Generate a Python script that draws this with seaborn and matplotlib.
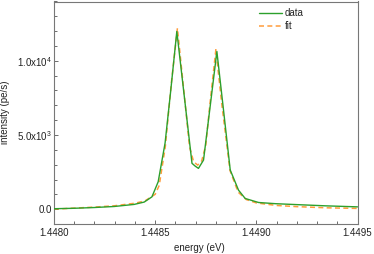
import matplotlib
matplotlib.use("Agg")
import matplotlib.pyplot as plt
import seaborn as sns
import pandas as pd
from matplotlib.ticker import MultipleLocator, FixedLocator

# ---- data ----
data_energy = [1.448000, 1.448099, 1.448198, 1.448297, 1.448396, 1.448446, 1.448484,
               1.448515, 1.448549, 1.448577, 1.448607, 1.448644, 1.448682, 1.448698,
               1.448714, 1.448739, 1.448772, 1.448805, 1.448838, 1.448871, 1.448912,
               1.448945, 1.449011, 1.449094, 1.449177, 1.449342, 1.449500]
data_intensity = [30, 60, 110, 180, 320, 480, 830,
                  1850, 4460, 8000, 11980, 7600, 3090, 2900,
                  2750, 3310, 6950, 10630, 6650, 2640, 1280,
                  720, 450, 370, 320, 225, 155]

fit_energy = [1.44800, 1.44810, 1.44820, 1.44830, 1.44840, 1.44845, 1.44850, 1.44852,
              1.44855, 1.44858, 1.44861, 1.44864, 1.44867, 1.44869, 1.44871, 1.44873,
              1.44875, 1.44877, 1.44880, 1.44883, 1.44887, 1.44891, 1.44895, 1.44900,
              1.44910, 1.44920, 1.44935, 1.44950]
fit_intensity = [0, 70, 140, 230, 400, 560, 1000, 1600,
                 4200, 8500, 12200, 8200, 4200, 3200, 2970, 3250,
                 4300, 7000, 10750, 7000, 2600, 1150, 650, 420,
                 250, 170, 90, 50]

x_ticks = [1.4480, 1.4485, 1.4490, 1.4495]
x_ticklabels = ["1.4480", "1.4485", "1.4490", "1.4495"]
y_ticks = [0, 5000, 10000]
y_ticklabels = ["0.0", r"5.0x10$^{3}$", r"1.0x10$^{4}$"]

sns.set_style("ticks")
plt.rcParams["font.family"] = ["Liberation Sans", "DejaVu Sans"]
plt.rcParams["mathtext.fontset"] = "custom"
plt.rcParams["mathtext.rm"] = "Liberation Sans"
plt.rcParams["mathtext.it"] = "Liberation Sans"
plt.rcParams["mathtext.default"] = "rm"

fig = plt.figure(figsize=(3.74, 2.54), dpi=100)
ax = fig.add_axes([54 / 374, 1 - 224 / 254, (357.5 - 54) / 374, (224 - 1.5) / 254])

df_data = pd.DataFrame({"energy": data_energy, "intensity": data_intensity})
df_fit = pd.DataFrame({"energy": fit_energy, "intensity": fit_intensity})

green = "#2ca02c"
orange = "#ff8c1a"
sns.lineplot(data=df_data, x="energy", y="intensity", ax=ax, color=green,
             linewidth=1.0, label="data", zorder=3, sort=False)
lw_fit = 1.1
sns.lineplot(data=df_fit, x="energy", y="intensity", ax=ax, color=orange,
             linewidth=lw_fit, alpha=0.85, label="fit", zorder=2, sort=False,
             linestyle=(0, (3.6 / lw_fit, 2.4 / lw_fit)))

ax.set_xlim(1.4480, 1.4495)
ax.set_ylim(-1000, 14000)

ax.xaxis.set_major_locator(FixedLocator(x_ticks))
ax.set_xticklabels(x_ticklabels)
ax.xaxis.set_minor_locator(MultipleLocator(0.0001))
ax.yaxis.set_major_locator(FixedLocator(y_ticks))
ax.set_yticklabels(y_ticklabels)
ax.yaxis.set_minor_locator(MultipleLocator(1000))

fs = 7.0
ax.tick_params(which="both", direction="in", color="#555555", width=0.6,
               labelsize=fs, labelcolor="#222222")
ax.tick_params(which="major", length=3)
ax.tick_params(which="minor", length=2.5)
ax.tick_params(axis="y", which="major", pad=1.5)
ax.tick_params(axis="x", which="major", pad=3)

for s in ax.spines.values():
    s.set_visible(True)
    s.set_color("#777777")
    s.set_linewidth(0.8)

ax.set_xlabel("energy (eV)", fontsize=fs, color="#222222")
ax.set_ylabel("intensity (pe/s)", fontsize=fs, color="#222222")
ax.xaxis.set_label_coords(0.48, -0.085)
ax.yaxis.set_label_coords(-0.145, 0.5)

leg = ax.legend(loc="upper right", frameon=False, fontsize=fs,
                handlelength=2.3, handletextpad=0.3, labelspacing=0.3,
                borderaxespad=0.3, bbox_to_anchor=(0.845, 1.0))

fig.savefig("out.png", dpi=100)
